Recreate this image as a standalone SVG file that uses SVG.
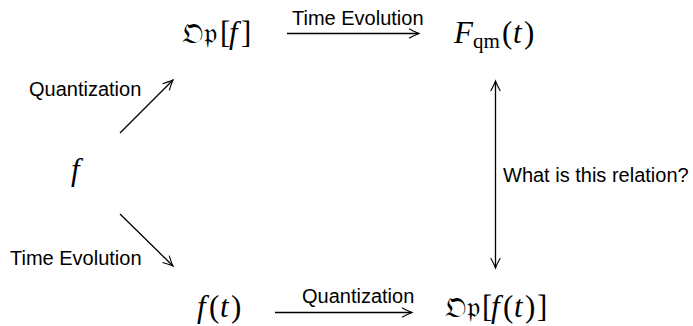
<svg xmlns="http://www.w3.org/2000/svg" width="693" height="326" viewBox="0 0 693 326">
<defs>
<style>
.lbl{font-family:"Liberation Sans",Arial,sans-serif;font-size:20px;fill:#000}
.m{font-family:"Liberation Serif","DejaVu Serif",serif;font-size:31px;fill:#000}
.i{font-style:italic}
.fr{font-family:"DejaVu Serif","DejaVu Sans","Noto Sans",serif;font-size:29px}
.c{stroke:#000;stroke-width:1.3;fill:none}
</style>
<marker id="ah" viewBox="-11 -6 13 12" refX="0" refY="0" markerWidth="13" markerHeight="12" markerUnits="userSpaceOnUse" orient="auto-start-reverse">
<path d="M-10,-4.8 Q-3,-1 0,0 Q-3,1 -10,4.8" fill="none" stroke="#000" stroke-width="1.1"/>
</marker>
</defs>
<rect width="693" height="326" fill="#fff"/>
<g id="n-op-f"><text class="m" y="43"><tspan class="fr" x="182">𝔒𝔭</tspan><tspan x="220">[</tspan><tspan class="i" x="229">f</tspan><tspan x="241">]</tspan></text></g>
<g id="n-fqm"><text class="m" y="43"><tspan class="i" x="454">F</tspan><tspan font-size="21" x="473" dy="5">qm</tspan><tspan x="502" dy="-5">(</tspan><tspan class="i" x="513">t</tspan><tspan x="524">)</tspan></text></g>
<g id="n-f"><text class="m i" x="71" y="180">f</text></g>
<g id="n-ft"><text class="m" y="317"><tspan class="i" x="197">f</tspan><tspan x="209">(</tspan><tspan class="i" x="220">t</tspan><tspan x="231">)</tspan></text></g>
<g id="n-op-ft"><text class="m" y="317"><tspan class="fr" x="445">𝔒𝔭</tspan><tspan x="482">[</tspan><tspan class="i" x="491">f</tspan><tspan x="503">(</tspan><tspan class="i" x="514">t</tspan><tspan x="525">)</tspan><tspan x="537">]</tspan></text></g>
<g id="connectors">
<line class="c" x1="287" y1="33.5" x2="419" y2="33.5" marker-end="url(#ah)"/>
<line class="c" x1="275" y1="312.5" x2="412" y2="312.5" marker-end="url(#ah)"/>
<line class="c" x1="120" y1="133" x2="173" y2="80" marker-end="url(#ah)"/>
<line class="c" x1="120" y1="214" x2="173" y2="266" marker-end="url(#ah)"/>
<line class="c" x1="495.5" y1="81" x2="495.5" y2="268" marker-start="url(#ah)" marker-end="url(#ah)"/>
</g>
<g id="labels">
<text class="lbl" x="292" y="25" font-size="19.5">Time Evolution</text>
<text class="lbl" x="302" y="303" font-size="19">Quantization</text>
<text class="lbl" x="29" y="96">Quantization</text>
<text class="lbl" x="10" y="265">Time Evolution</text>
<text class="lbl" x="503" y="182">What is this relation?</text>
</g>
</svg>
